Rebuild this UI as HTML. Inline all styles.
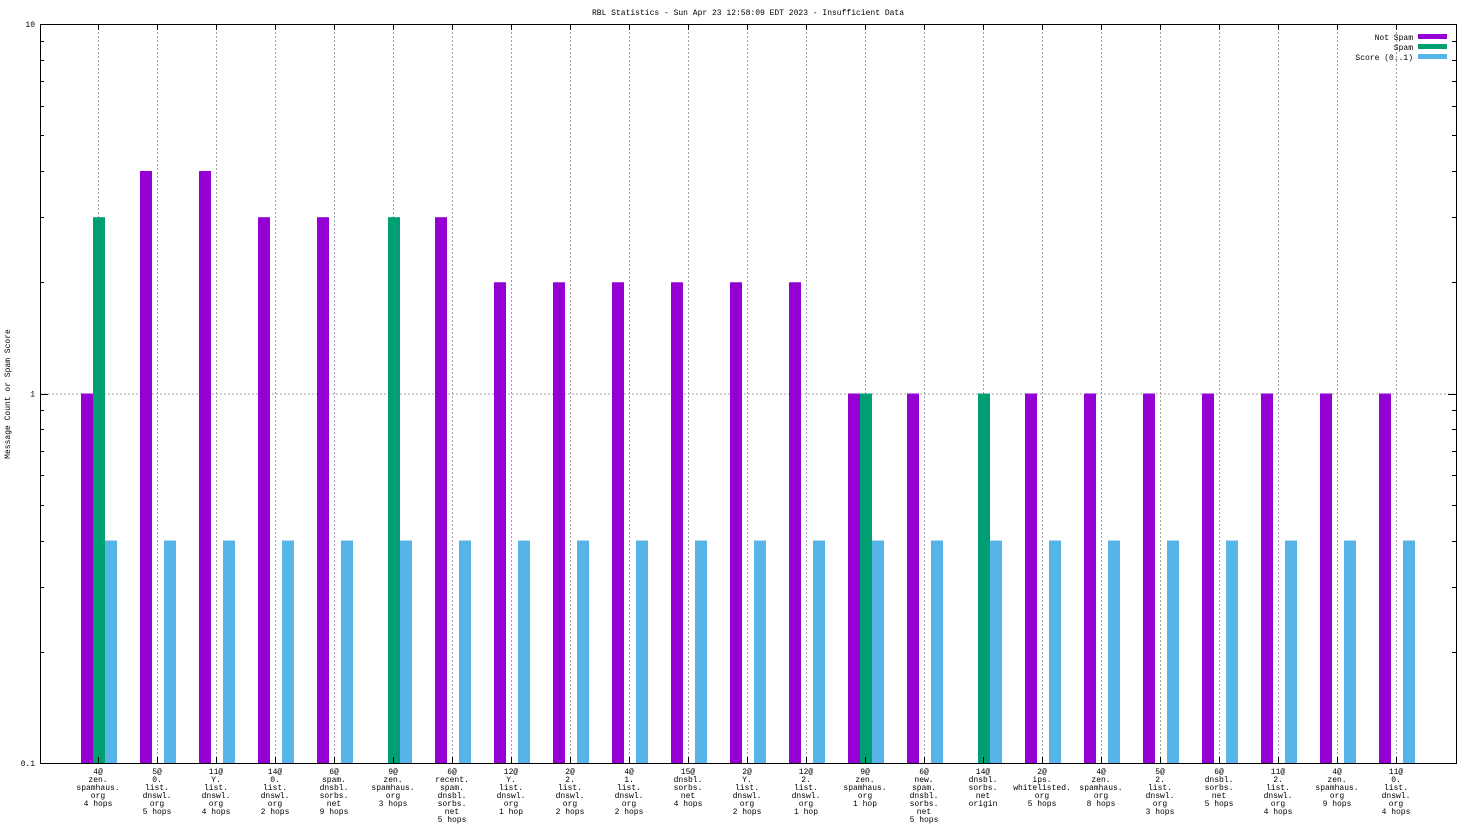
<!DOCTYPE html>
<html><head><meta charset="utf-8"><style>
html,body{margin:0;padding:0;background:#fff;}
svg text{font-family:"Liberation Mono","DejaVu Sans Mono",monospace;font-size:8px;fill:#000;}
</style></head><body>
<svg id="chart" width="1472" height="828" xmlns="http://www.w3.org/2000/svg">
<text x="748" y="15" text-anchor="middle">RBL Statistics - Sun Apr 23 12:58:09 EDT 2023 - Insufficient Data</text>
<text transform="translate(10,394) rotate(-90)" text-anchor="middle">Message Count or Spam Score</text>
<g id="grid"></g><g id="bars"></g><g id="axes"></g><g id="labels"></g>
<g>
<text x="1413" y="40" text-anchor="end">Not Spam</text>
<rect x="1418" y="34" width="29" height="5" fill="#9400d3"/>
<text x="1413" y="50" text-anchor="end">Spam</text>
<rect x="1418" y="44" width="29" height="5" fill="#009e73"/>
<text x="1413" y="60" text-anchor="end">Score (0..1)</text>
<rect x="1418" y="54" width="29" height="5" fill="#56b4e9"/>
</g>
</svg>
<script>
const categories=[
["4@","zen.","spamhaus.","org","4 hops"],["5@","0.","list.","dnswl.","org","5 hops"],["11@","Y.","list.","dnswl.","org","4 hops"],
["14@","0.","list.","dnswl.","org","2 hops"],["6@","spam.","dnsbl.","sorbs.","net","9 hops"],["9@","zen.","spamhaus.","org","3 hops"],
["6@","recent.","spam.","dnsbl.","sorbs.","net","5 hops"],["12@","Y.","list.","dnswl.","org","1 hop"],["2@","2.","list.","dnswl.","org","2 hops"],
["4@","1.","list.","dnswl.","org","2 hops"],["15@","dnsbl.","sorbs.","net","4 hops"],["2@","Y.","list.","dnswl.","org","2 hops"],
["12@","2.","list.","dnswl.","org","1 hop"],["9@","zen.","spamhaus.","org","1 hop"],["6@","new.","spam.","dnsbl.","sorbs.","net","5 hops"],
["14@","dnsbl.","sorbs.","net","origin"],["2@","ips.","whitelisted.","org","5 hops"],["4@","zen.","spamhaus.","org","8 hops"],
["5@","2.","list.","dnswl.","org","3 hops"],["6@","dnsbl.","sorbs.","net","5 hops"],["11@","2.","list.","dnswl.","org","4 hops"],
["4@","zen.","spamhaus.","org","9 hops"],["11@","0.","list.","dnswl.","org","4 hops"]];
const notSpam=[1,4,4,3,3,0,3,2,2,2,2,2,2,1,1,0,1,1,1,1,1,1,1];
const spam=[3,0,0,0,0,3,0,0,0,0,0,0,0,1,0,1,0,0,0,0,0,0,0];
const score=[0.4,0.4,0.4,0.4,0.4,0.4,0.4,0.4,0.4,0.4,0.4,0.4,0.4,0.4,0.4,0.4,0.4,0.4,0.4,0.4,0.4,0.4,0.4];
const yTicks=[0.1,1,10];
const NS="http://www.w3.org/2000/svg";
const L=40,R=1456,T=24,B=763;
const yMin=0.1,yMax=10;
function y(v){return B-(Math.log10(v)-Math.log10(yMin))/(Math.log10(yMax)-Math.log10(yMin))*(B-T);}
const step=59,x0=99-0;
function xc(i){return x0+i*step;}
function mk(tag,attrs,parent){const e=document.createElementNS(NS,tag);for(const k in attrs)e.setAttribute(k,attrs[k]);parent.appendChild(e);return e;}
const grid=document.getElementById('grid'),bars=document.getElementById('bars'),axes=document.getElementById('axes'),labels=document.getElementById('labels');
categories.forEach((c,i)=>{
  const gx=xc(i)-0.5;
  const g=mk('line',{x1:gx,x2:gx,y1:T,y2:B,stroke:'#a0a0a0','stroke-dasharray':'2,2','stroke-width':1},grid);
  
  
  const t1=mk('line',{x1:gx,x2:gx,y1:T,y2:T+6,stroke:'#000'},axes);
  
  
  const t2=mk('line',{x1:gx,x2:gx,y1:B,y2:B-6,stroke:'#000'},axes);
  
  
  const tx=mk('text',{x:xc(i)-1,'text-anchor':'middle'},labels);
  
  
  c.forEach((ln,j)=>{const s=mk('tspan',{x:xc(i)-1,y:774+j*8},tx);s.textContent=ln;});
});
const hg=mk('line',{x1:L,x2:R,y1:y(1)+0.5,y2:y(1)+0.5,stroke:'#a0a0a0','stroke-dasharray':'2,2'},grid);


function bar(v,cx,off,col,name){
  if(!(v>0))return;
  const top=y(v);
  const r=mk('rect',{x:cx+off,y:top,width:12,height:B-top,fill:col},bars);
  
  
}
categories.forEach((c,i)=>{
  bar(notSpam[i],xc(i),-18,'#9400d3','bar-not-spam');
  bar(spam[i],xc(i),-6,'#009e73','bar-spam');
  bar(score[i],xc(i),6,'#56b4e9','bar-score');
});
const fr=mk('rect',{x:L+0.5,y:T+0.5,width:R-L,height:B-T,fill:'none',stroke:'#000'},axes);


yTicks.forEach(v=>{
  const t=mk('text',{x:35,y:y(v)+3,'text-anchor':'end'},labels);
  t.textContent=String(v);
  
  
});
for(let d=0.1;d<10;d*=10){for(let m=1;m<10;m++){const v=d*m;const yy=Math.round(y(v))+0.5;const len=m===1?8:4;
  const a=mk('line',{x1:L,x2:L+len,y1:yy,y2:yy,stroke:'#000'},axes);
  
  
  const b=mk('line',{x1:R,x2:R-len,y1:yy,y2:yy,stroke:'#000'},axes);
  
  
}}
</script>
</body></html>
